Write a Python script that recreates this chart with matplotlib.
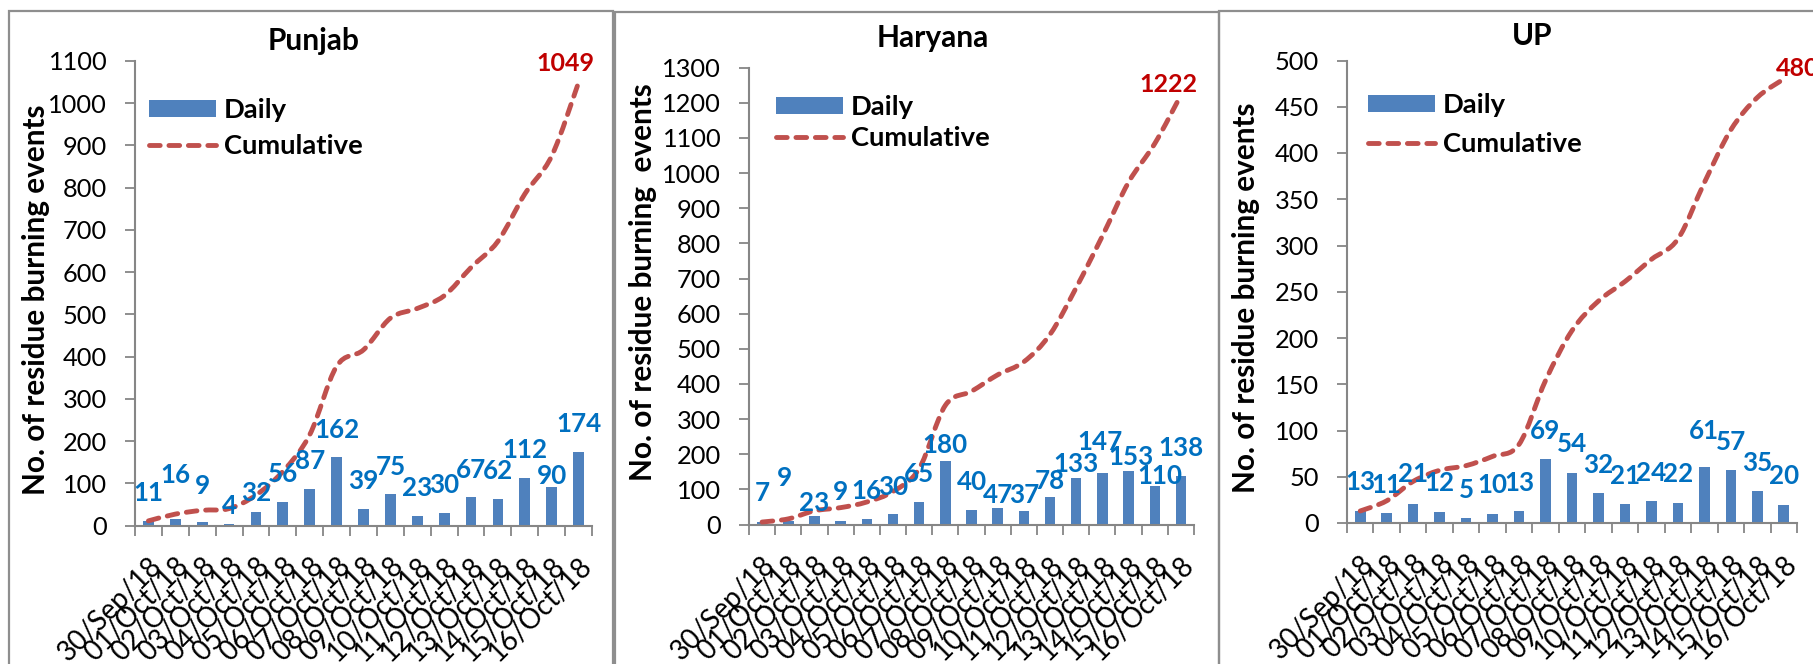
import numpy as np
import matplotlib
matplotlib.use("Agg")
import matplotlib.pyplot as plt
from matplotlib.path import Path
from matplotlib.patches import PathPatch, Patch, Rectangle
from matplotlib.lines import Line2D

plt.rcParams['font.family'] = ['Lato', 'DejaVu Sans']

# ---------------- data ----------------
dates = ["30/Sep/18", "01/Oct/18", "02/Oct/18", "03/Oct/18", "04/Oct/18", "05/Oct/18",
         "06/Oct/18", "07/Oct/18", "08/Oct/18", "09/Oct/18", "10/Oct/18", "11/Oct/18",
         "12/Oct/18", "13/Oct/18", "14/Oct/18", "15/Oct/18", "16/Oct/18"]
states = ["Punjab", "Haryana", "UP"]
punjab_daily = [11, 16, 9, 4, 32, 56, 87, 162, 39, 75, 23, 30, 67, 62, 112, 90, 174]
haryana_daily = [7, 9, 23, 9, 16, 30, 65, 180, 40, 47, 37, 78, 133, 147, 153, 110, 138]
up_daily = [13, 11, 21, 12, 5, 10, 13, 69, 54, 32, 21, 24, 22, 61, 57, 35, 20]
y_max = [1100, 1300, 500]
y_step = [100, 100, 50]
ylabels = ["No. of residue burning events", "No. of residue burning  events",
           "No. of residue burning events"]

# ---------------- layout (pixels of the 1813x664 figure) ----------------
W, H = 1813, 664
axes_px = [(135, 592, 61, 525.5), (749, 1194, 67.7, 524.5), (1347, 1797, 60.5, 523)]
title_px = [(314, 41), (933, 38), (1532, 36)]
ylabel_px = [(36, 300), (643, 282), (1246, 298)]
# legend: handle left x, centre y of row 1, centre y of row 2
legend_px = [(149, 110, 146), (776, 107, 138), (1368, 105, 144)]
frames_px = [(9, 10.5, 613, 700), (614.5, 11.5, 1219, 700), (1219, 11, 1900, 700)]
# daily label centres (data units) - placed to avoid the line as in the original
label_y = [
    [76, 119, 93, 46, 76, 121, 153, 226, 106, 138, 88, 96, 131, 129, 179, 118, 241],
    [90, 132, 60, 93, 96, 108, 144, 225, 120, 84, 84, 123, 171, 235, 193, 138, 219],
    [44, 41, 53, 43, 36, 41, 43, 99, 85, 63, 51, 54, 53, 99, 88, 65, 51],
]
label_dx = [
    [0] * 17,
    [0, -0.15, 0, 0, 0, 0, 0, 0, 0, 0, 0, 0, 0, -0.1, 0.1, 0.2, 0],
    [0] * 17,
]
total_offset_px = [(-13, 19), (-12, 11), (14, 11)]
# text widths measured on the reference (pixels) used to size the fonts
target_w = {
    'ytick': ("1100", 'normal', 59),
    'xtick': ("16/Oct/18", 'normal', 134),
    'label': ("162", 'bold', 45),
    'total': ("1049", 'bold', 58),
    'title': ("Punjab", 'bold', 92),
    'legend': ("Cumulative", 'bold', 139),
    'ylabel': ("No. of residue burning events", 'bold', 391),
}

BAR = '#4F81BD'
LINE = '#C0504D'
BLUE_TXT = '#0070C0'
RED_TXT = '#C00000'
GRID = '#868686'
DASH = (0, (2.2, 1.8))

fig = plt.figure(figsize=(W / 100, H / 100), dpi=100)
renderer = fig.canvas.get_renderer()


def fit_size(text, weight, target):
    t = fig.text(0, 0, text, fontsize=20, fontweight=weight)
    w = t.get_window_extent(renderer).width
    t.remove()
    return 20 * target / w


fs = {k: fit_size(*v) for k, v in target_w.items()}

for (x0, y0, x1, y1) in frames_px:
    fig.patches.append(Rectangle((x0 / W, 1 - y1 / H), (x1 - x0) / W, (y1 - y0) / H,
                                 transform=fig.transFigure, fill=False,
                                 edgecolor='#8E8E8E', linewidth=1.6))


def smooth_path(xs, ys):
    pts = np.column_stack([xs, ys]).astype(float)
    n = len(pts)
    verts = [pts[0]]
    codes = [Path.MOVETO]
    for i in range(n - 1):
        p0 = pts[i - 1] if i > 0 else pts[i]
        p1 = pts[i]
        p2 = pts[i + 1]
        p3 = pts[i + 2] if i + 2 < n else pts[i + 1]
        c1 = p1 + (p2 - p0) / 6.0
        c2 = p2 - (p3 - p1) / 6.0
        verts += [c1, c2, p2]
        codes += [Path.CURVE4] * 3
    return Path(np.array(verts), codes)


def place_legend(ax, hx, y1, y2):
    fpx = fs['legend'] * 100 / 72.0
    handles = [Patch(facecolor=BAR, edgecolor='none'),
               Line2D([0], [0], color=LINE, linewidth=3.5, linestyle=DASH,
                      dash_capstyle='round')]
    kw = dict(loc='upper left', bbox_transform=fig.transFigure, frameon=False,
              borderpad=0, borderaxespad=0, handlelength=67 / fpx,
              handleheight=16 / fpx, handletextpad=8 / fpx,
              prop={'weight': 'bold', 'size': fs['legend']})
    top = y1 - 14
    leg = ax.legend(handles, ['Daily', 'Cumulative'], bbox_to_anchor=(hx / W, 1 - top / H),
                    labelspacing=0, **kw)
    fig.canvas.draw()
    b0, b1 = [t.get_window_extent(renderer) for t in leg.get_texts()]
    c0 = H - (b0.y0 + b0.y1) / 2
    c1 = H - (b1.y0 + b1.y1) / 2
    lsp = ((y2 - y1) - (c1 - c0)) / fpx
    top -= (c0 - y1)
    ax.legend(handles, ['Daily', 'Cumulative'], bbox_to_anchor=(hx / W, 1 - top / H),
              labelspacing=max(lsp, 0), **kw)


all_daily = [punjab_daily, haryana_daily, up_daily]
for k in range(3):
    daily = np.array(all_daily[k])
    cum = np.cumsum(daily)
    x = np.arange(len(dates))
    l, r, t, b = axes_px[k]
    ax = fig.add_axes([l / W, 1 - b / H, (r - l) / W, (b - t) / H])
    ax.bar(x, daily, width=0.4, color=BAR, zorder=2)
    patch = PathPatch(smooth_path(x, cum), fill=False, edgecolor=LINE, linewidth=3.5,
                      linestyle=DASH, capstyle='round', zorder=3)
    ax.add_patch(patch)

    ax.set_xlim(-0.5, len(dates) - 0.5)
    ax.set_ylim(0, y_max[k])
    ax.set_yticks(np.arange(0, y_max[k] + 1, y_step[k]))
    ax.set_xticks(x)
    ax.set_xticklabels(dates, rotation=45, ha='right', va='top',
                       rotation_mode='anchor', fontsize=fs['xtick'])
    ax.set_xticks(np.arange(-0.5, len(dates), 1.0), minor=True)
    ax.tick_params(axis='x', which='major', length=0, pad=19.5)
    ax.tick_params(axis='x', which='minor', length=7, width=1.3, color=GRID, direction='out')
    ax.tick_params(axis='y', length=7, width=1.3, color=GRID, direction='out',
                   labelsize=fs['ytick'], pad=13)
    for s in ['top', 'right']:
        ax.spines[s].set_visible(False)
    for s in ['left', 'bottom']:
        ax.spines[s].set_color(GRID)
        ax.spines[s].set_linewidth(1.5)

    for i, v in enumerate(daily):
        ax.text(i + label_dx[k][i], label_y[k][i], str(v), ha='center', va='center',
                color=BLUE_TXT, fontweight='bold', fontsize=fs['label'], zorder=4,
                clip_on=False)

    dx, dy = total_offset_px[k]
    ax.annotate(str(cum[-1]), xy=(x[-1], cum[-1]), xytext=(dx * 0.72, dy * 0.72),
                textcoords='offset points', ha='center', va='center', color=RED_TXT,
                fontweight='bold', fontsize=fs['total'], annotation_clip=False)

    tx, ty = title_px[k]
    fig.text(tx / W, 1 - ty / H, states[k], ha='center', va='center',
             fontweight='bold', fontsize=fs['title'])
    yx, yy = ylabel_px[k]
    fig.text(yx / W, 1 - yy / H, ylabels[k], ha='center', va='center', rotation=90,
             fontweight='bold', fontsize=fs['ylabel'])

    place_legend(ax, *legend_px[k])

fig.savefig('out.png', dpi=100)
